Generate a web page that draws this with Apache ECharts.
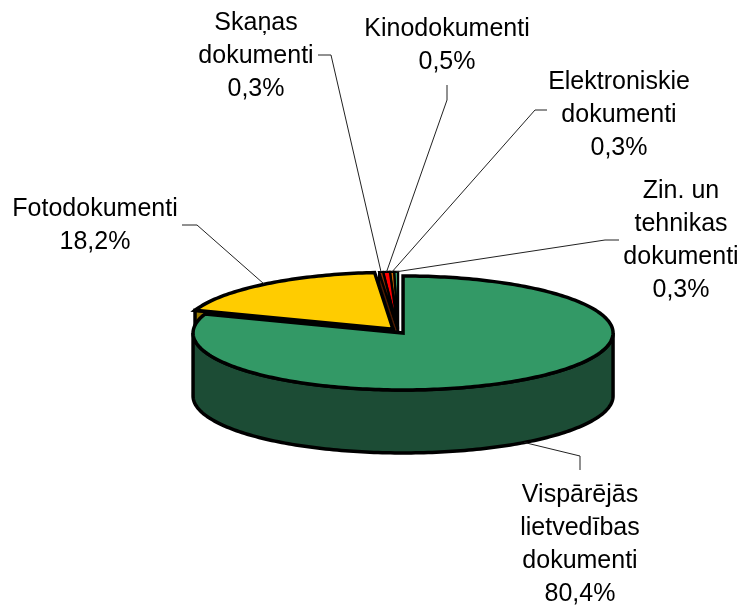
<!DOCTYPE html>
<html lang="lv">
<head>
    <meta charset="UTF-8">
    <title>Dokumentu sadalījums</title>
    <script src="https://cdn.jsdelivr.net/npm/echarts@6/dist/echarts.min.js"></script>
    <style>
        html, body { margin: 0; padding: 0; background: #fff; }
        #chart { width: 742px; height: 605px; }
    </style>
</head>
<body>
<div id="chart"></div>
<script>
    // data, in the order the slices run clockwise from 12 o'clock
    const categories = [
        'Vispārējās\nlietvedības\ndokumenti',
        'Fotodokumenti',
        'Skaņas\ndokumenti',
        'Kinodokumenti',
        'Elektroniskie\ndokumenti',
        'Zin. un\ntehnikas\ndokumenti'
    ];
    const shares = [80.4, 18.2, 0.3, 0.5, 0.3, 0.3];

    // styles per slice
    const topColors = ['#339966', '#ffcc00', '#993300', '#ff0000', '#cc6600', '#339966'];
    const sideColors = ['#1c4c35', '#997a00', '#4d1a00', '#800000', '#663300', '#1c4c35'];
    const outlineWidths = [3.5, 3.5, 2.2, 2.2, 2.2, 2.2];

    // fake 3D layout
    const pieCx = 398.2, pieCy = 331.1, rx = 210, ry = 57, depth = 63, explode = 8.4;

    // label centres and the elbow of each leader line: [text x, text y, [line start], [elbow]]
    const labelLayout = [
        [580, 545, [580, 470], [580, 456]],
        [95, 226, [182, 225], [197, 225]],
        [256, 56, [318, 55], [331, 55]],
        [447, 46, [447, 85], [447, 100]],
        [619, 115, [547, 110], [535, 110]],
        [681, 241, [619, 240], [605, 240]]
    ];

    const total = shares.reduce((a, b) => a + b, 0);
    const startAngles = [];
    shares.reduce((acc, v, i) => { startAngles[i] = acc; return acc + v / total * Math.PI * 2; }, 0);

    function sliceInfo(i) {
        const a0 = startAngles[i];
        const a1 = a0 + shares[i] / total * Math.PI * 2;
        const mid = (a0 + a1) / 2;
        const cx = pieCx + explode * Math.sin(mid);
        const cy = pieCy - explode * Math.cos(mid) * ry / rx;
        return {a0, a1, mid, cx, cy};
    }

    function rimPoints(s, a0, a1, dy) {
        const pts = [];
        const steps = Math.max(2, Math.ceil((a1 - a0) / 0.02));
        for (let k = 0; k <= steps; k++) {
            const a = a0 + (a1 - a0) * k / steps;
            pts.push([s.cx + rx * Math.sin(a), s.cy - ry * Math.cos(a) + dy]);
        }
        return pts;
    }

    function renderSlice(params, api) {
        const i = api.value(0);
        const s = sliceInfo(i);
        const children = [];
        const lineStyle = {stroke: '#000', lineWidth: outlineWidths[i], lineJoin: 'miter', miterLimit: 4};

        // radial wall on the clockwise start edge that faces the viewer
        if (i !== 0) {
            const p = rimPoints(s, s.a0, s.a0, 0)[0];
            children.push({
                type: 'polygon',
                shape: {points: [[s.cx, s.cy], p, [p[0], p[1] + depth], [s.cx, s.cy + depth]]},
                style: Object.assign({fill: sideColors[i]}, lineStyle)
            });
        }
        // outer wall, only the part on the front half of the ellipse
        const f0 = Math.max(s.a0, Math.PI / 2), f1 = Math.min(s.a1, Math.PI * 1.5);
        if (f1 > f0) {
            const upper = rimPoints(s, f0, f1, 0);
            const lower = rimPoints(s, f0, f1, depth).reverse();
            children.push({
                type: 'polygon',
                shape: {points: upper.concat(lower)},
                style: Object.assign({fill: sideColors[i]}, lineStyle)
            });
        }
        // top face
        children.push({
            type: 'polygon',
            shape: {points: [[s.cx, s.cy]].concat(rimPoints(s, s.a0, s.a1, 0))},
            style: Object.assign({fill: topColors[i]}, lineStyle)
        });
        return {type: 'group', children};
    }

    function renderLabel(params, api) {
        const i = api.value(0);
        const s = sliceInfo(i);
        const lay = labelLayout[i];
        let end = [s.cx + rx * Math.sin(s.mid), s.cy - ry * Math.cos(s.mid)];
        if (Math.cos(s.mid) < 0) end[1] += depth;
        const pct = shares[i].toFixed(1).replace('.', ',') + '%';
        return {
            type: 'group',
            children: [
                {
                    type: 'polyline',
                    shape: {points: [lay[2], lay[3], end]},
                    style: {stroke: '#222', lineWidth: 1, fill: null}
                },
                {
                    type: 'text',
                    x: lay[0],
                    y: lay[1],
                    style: {
                        text: categories[i] + '\n' + pct,
                        fontFamily: '"Liberation Sans", Arial, sans-serif',
                        fontSize: 25,
                        lineHeight: 33,
                        fill: '#000',
                        align: 'center',
                        verticalAlign: 'middle'
                    }
                }
            ]
        };
    }

    const myChart = echarts.init(document.getElementById('chart'));
    // farthest slices first, the big green one goes on top of them
    const drawOrder = shares.map((v, i) => [shares.length - 1 - i]);
    myChart.setOption({
        backgroundColor: '#fff',
        animation: false,
        series: [
            {type: 'custom', coordinateSystem: 'none', renderItem: renderSlice, data: drawOrder, silent: true, z: 2},
            {type: 'custom', coordinateSystem: 'none', renderItem: renderLabel, data: drawOrder, silent: true, z: 3}
        ]
    });
</script>
</body>
</html>
